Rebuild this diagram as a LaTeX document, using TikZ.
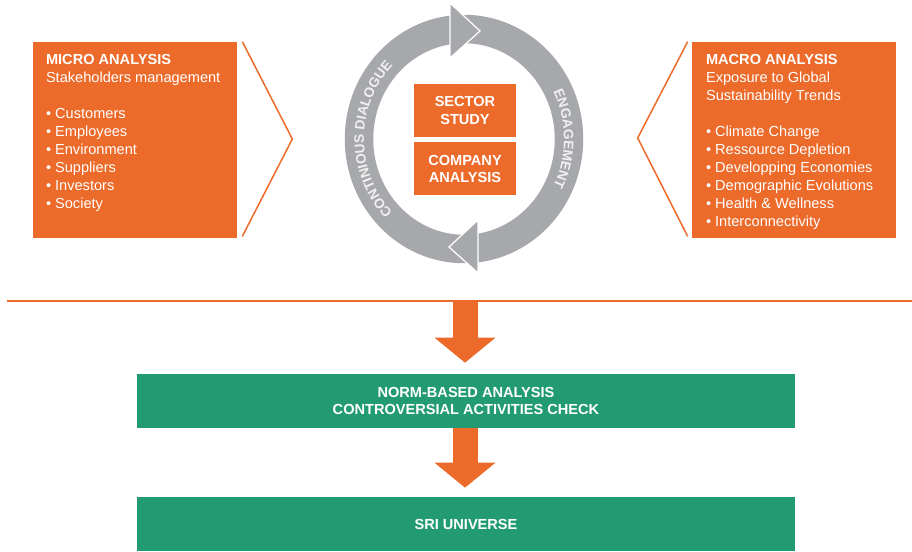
\documentclass[tikz,border=0pt]{standalone}
\usepackage{fontspec}
\setmainfont{Liberation Sans}
\usetikzlibrary{arrows.meta,decorations.text}

\definecolor{sriorange}{RGB}{236,106,42}
\definecolor{srigreen}{RGB}{34,155,115}
\definecolor{ringgray}{RGB}{166,168,171}
\definecolor{ringtext}{RGB}{240,240,240}

\newcommand{\panelfont}{\fontsize{8.3}{10.24}\selectfont}
\newcommand{\blockfont}{\fontsize{8.3}{9.7}\selectfont\bfseries}
\newcommand{\ringfont}{\fontsize{7.8}{8}\selectfont\bfseries}

\begin{document}
\begin{tikzpicture}[x=0.02cm,y=0.02cm]
    \useasboundingbox (0,0) rectangle (912,-551);

    % side panels
    \begin{scope}[every node/.style={fill=sriorange,inner sep=0pt,minimum width=4.08cm,minimum height=3.92cm}]
        \node (micro) at (135,-140) {};
        \node (macro) at (794,-140) {};
    \end{scope}
    \begin{scope}[every node/.style={anchor=north west,inner sep=0pt,text=white,align=left,font=\panelfont}]
        \node (microtxt) at ([shift={(13,-12)}]micro.north west) {\textbf{MICRO ANALYSIS}\\Stakeholders management\\[10.24pt]
            • Customers\\• Employees\\• Environment\\• Suppliers\\• Investors\\• Society};
        \node (macrotxt) at ([shift={(14,-12)}]macro.north west) {\textbf{MACRO ANALYSIS}\\Exposure to Global\\Sustainability Trends\\[10.24pt]
            • Climate Change\\• Ressource Depletion\\• Developping Economies\\• Demographic Evolutions\\• Health \& Wellness\\• Interconnectivity};
    \end{scope}

    % chevrons pointing to the middle
    \begin{scope}[every path/.style={draw=sriorange,line width=0.85pt}]
        \path ([shift={(5,0)}]micro.north east) -- ([shift={(55,1)}]micro.east) -- ([shift={(5,2)}]micro.south east);
        \path ([shift={(-4,0)}]macro.north west) -- ([shift={(-54,2)}]macro.west) -- ([shift={(-4,2)}]macro.south west);
    \end{scope}

    % cycle
    \coordinate (ring) at (464,-139);
    \draw[ringgray,line width=0.57cm] (ring) ellipse [x radius=105,y radius=110];
    \begin{scope}[every path/.style={fill=ringgray,draw=white,line width=0.7pt}]
        \path (450,-3) -- (480,-31) -- (450,-58) -- cycle;
        \path (478,-220) -- (449,-247) -- (478,-273) -- cycle;
    \end{scope}
    \path[decorate,decoration={text along path,text align=center,
            text={|\ringfont\color{ringtext}|CONTINIOUS DIALOGUE}}]
        (ring) ++(240:100 and 105) arc [start angle=240,end angle=120,x radius=100,y radius=105];
    \path[decorate,decoration={text along path,text align=center,
            text={|\ringfont\color{ringtext}|ENGAGEMENT}}]
        (ring) ++(60:100 and 105) arc [start angle=60,end angle=-60,x radius=100,y radius=105];

    \begin{scope}[every node/.style={fill=sriorange,text=white,font=\blockfont,align=center,inner sep=0pt,minimum width=2.04cm,minimum height=1.06cm}]
        \node (sector) at (465,-110.5) {SECTOR\\STUDY};
        \node (company) at (465,-168.5) {COMPANY\\ANALYSIS};
    \end{scope}

    % rule and screening steps
    \coordinate (ruleL) at (7,-301);
    \coordinate (ruleR) at (912,-301);
    \coordinate (split) at (465,-301);
    \draw[sriorange,line width=1pt] (ruleL) -- (ruleR);

    \begin{scope}[every node/.style={fill=srigreen,text=white,font=\blockfont,align=center,inner sep=0pt,minimum width=13.18cm,minimum height=1.08cm}]
        \node (norm) at (466,-401) {NORM-BASED ANALYSIS\\CONTROVERSIAL ACTIVITIES CHECK};
        \node (sri) at (466,-524) {SRI UNIVERSE};
    \end{scope}

    \begin{scope}[every path/.style={sriorange,line width=0.5cm,-{Triangle[length=0.5cm,width=1.22cm,line width=0pt]}}]
        \path (split) edge[shorten >=0.22cm] (split |- norm.north);
        \path (split |- norm.south) edge[shorten >=0.18cm] (split |- sri.north);
    \end{scope}
\end{tikzpicture}
\end{document}
